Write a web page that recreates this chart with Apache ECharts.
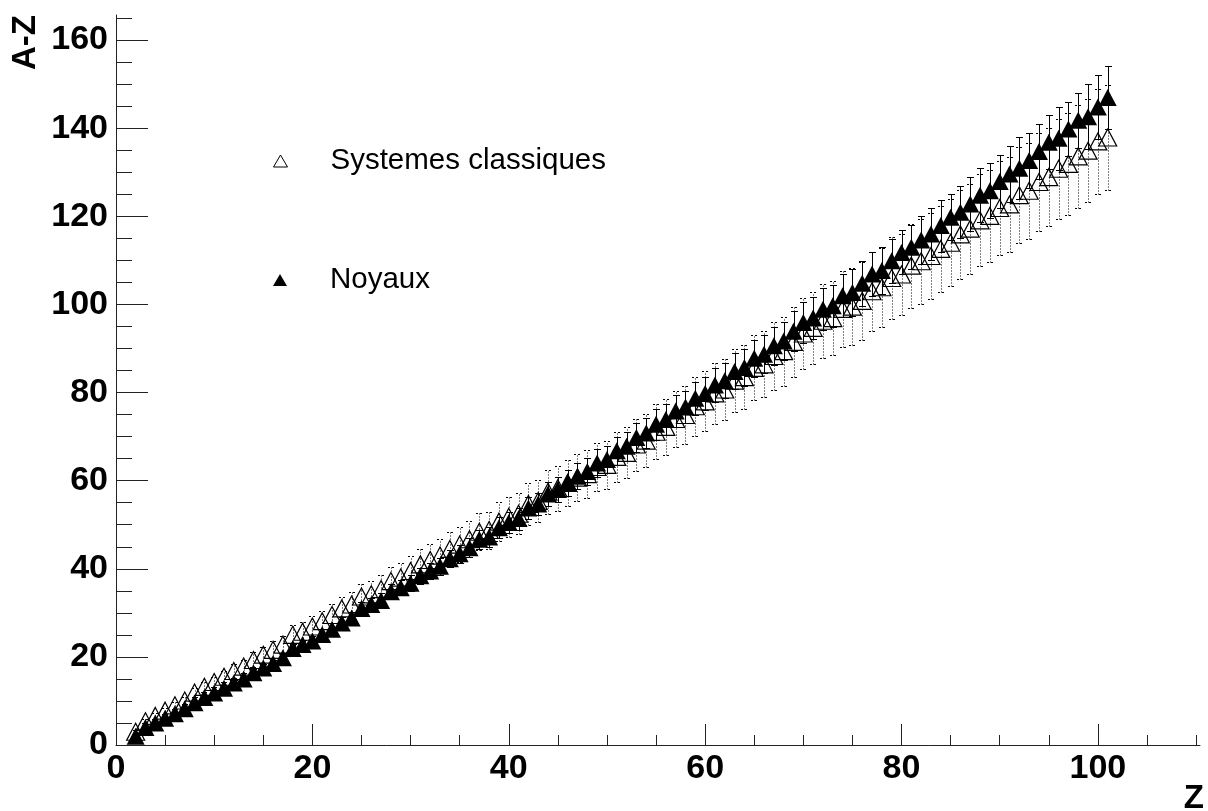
<!DOCTYPE html>
<html><head><meta charset="utf-8">
<script src="https://cdn.jsdelivr.net/npm/echarts@6/dist/echarts.min.js"></script>
<style>html,body{margin:0;padding:0;background:#fff}#c{width:1208px;height:811px}</style>
</head><body><div id="c"></div>
<script>
// ---- data ----
const zValues = [2,3,4,5,6,7,8,9,10,11,12,13,14,15,16,17,18,19,20,21,22,23,24,25,26,27,28,29,30,31,32,33,34,35,36,37,38,39,40,41,42,43,44,45,46,47,48,49,50,51,52,53,54,55,56,57,58,59,60,61,62,63,64,65,66,67,68,69,70,71,72,73,74,75,76,77,78,79,80,81,82,83,84,85,86,87,88,89,90,91,92,93,94,95,96,97,98,99,100,101];

const noyaux = [2.0,4.0,5.0,6.1,7.1,8.2,9.6,10.8,11.8,12.9,14.1,15.0,16.4,17.5,18.5,19.8,21.9,22.8,23.6,25.1,26.3,27.7,28.8,31.0,31.9,32.8,34.8,35.7,36.7,38.4,39.5,40.6,42.3,43.4,44.8,46.7,47.2,49.3,50.5,51.4,53.8,54.7,57.0,58.0,59.5,61.0,62.1,64.0,64.8,66.8,67.8,69.8,70.8,72.8,73.9,75.8,76.7,78.7,79.8,81.7,82.7,84.8,85.7,87.8,88.7,90.6,91.7,93.9,95.9,96.9,98.9,99.7,102.0,102.7,104.8,106.9,107.7,109.9,111.8,113.0,114.6,116.0,117.9,119.8,120.9,122.8,124.8,125.8,127.9,129.6,130.9,132.7,134.7,136.8,137.7,139.8,141.8,142.6,144.8,147.0];

const noyauxErr = [0.1,0.2,0.2,0.3,0.3,0.4,0.5,0.5,0.6,0.6,0.7,0.7,0.8,0.8,0.9,1.0,1.1,1.1,1.1,1.2,1.3,1.3,1.4,1.5,1.5,1.6,1.7,1.7,1.8,1.8,1.9,1.9,2.0,2.1,2.2,2.2,2.3,2.4,2.4,2.5,2.6,2.6,2.7,2.8,2.9,2.9,3.0,3.1,3.1,3.2,3.3,3.4,3.4,3.5,3.5,3.6,3.7,3.8,3.8,3.9,4.0,4.1,4.1,4.2,4.3,4.3,4.4,4.5,4.6,4.7,4.8,4.8,4.9,5.4,5.1,5.0,5.4,5.0,5.0,5.0,5.4,6.0,5.9,5.2,5.9,6.1,6.1,6.2,6.0,6.3,7.0,6.3,6.2,6.1,7.1,6.1,6.2,7.4,7.2,7.1];

const classiques = [3.0,5.4,6.6,7.8,9.0,10.1,11.9,13.2,14.3,15.5,16.8,17.8,19.3,20.5,21.6,22.8,25.0,25.7,26.9,28.1,29.5,31.0,31.9,33.7,34.2,35.4,37.2,38.0,39.5,41.0,42.0,43.0,44.5,45.5,46.7,48.4,48.8,50.7,51.8,52.5,54.7,55.4,57.5,58.3,59.5,60.7,61.5,63.1,63.6,65.4,66.3,68.2,69.1,71.1,72.2,74.0,74.9,76.9,78.0,79.8,80.7,82.7,83.5,85.6,86.4,88.3,89.4,91.5,93.4,94.7,96.3,96.9,99.0,99.5,100.8,103.0,103.9,106.0,106.8,108.8,109.8,111.0,112.6,114.0,115.9,117.2,119.1,120.1,121.9,122.7,124.8,125.8,127.8,128.9,130.8,131.9,133.6,134.9,137.0,137.9];

const classiquesErr = [0.3,0.5,0.6,0.7,0.8,0.9,1.0,1.1,1.2,1.3,1.5,1.5,1.7,1.8,1.9,2.0,2.2,2.2,2.3,2.4,2.6,2.7,2.8,2.9,3.0,3.1,3.2,3.3,3.4,3.6,3.7,3.7,3.9,4.0,4.1,4.2,4.2,4.4,4.5,4.6,4.8,4.8,5.0,5.1,5.2,5.3,5.4,5.5,5.5,5.7,5.8,5.9,6.0,6.2,6.3,6.4,6.5,6.7,6.8,6.9,7.0,7.2,7.3,7.4,7.5,7.7,7.8,8.0,8.1,8.2,8.4,8.4,8.6,8.7,8.8,9.0,9.0,9.2,9.3,9.5,9.6,9.7,9.8,9.9,10.1,10.2,10.4,10.4,10.6,10.7,10.9,10.9,11.1,11.2,11.4,11.5,11.6,11.7,11.9,12.0];

const seriesNames = ['Systemes classiques', 'Noyaux'];
const xTitle = 'Z';
const yTitle = 'A-Z';
const xMajorTicks = [0,20,40,60,80,100];
const xMinorTicks = [5,10,15,25,30,35,45,50,55,65,70,75,85,90,95,105,110];
const yMajorTicks = [0,20,40,60,80,100,120,140,160];
const yMinorTicks = [5,10,15,25,30,35,45,50,55,65,70,75,85,90,95,105,110,115,125,130,135,145,150,155,165];

// ---- chart ----
const FONT = '"Liberation Sans", Arial, Helvetica, sans-serif';
const AX = '#222';
const chart = echarts.init(document.getElementById('c'), null, {renderer: 'canvas'});

function errRenderer(dotted) {
  return function (params, api) {
    const x = api.value(0), lo = api.value(1), hi = api.value(2);
    const pl = api.coord([x, lo]);
    const ph = api.coord([x, hi]);
    const cx = Math.round(pl[0]) + 0.5;
    const yl = Math.round(pl[1]) + 0.5;
    const yh = Math.round(ph[1]) + 0.5;
    const half = 3.5;
    const lineStyle = {stroke: '#000', lineWidth: 1, lineDash: dotted ? [1, 2] : null};
    const capStyle = {stroke: '#000', lineWidth: 1, lineDash: dotted ? [2, 2] : null};
    return {
      type: 'group',
      children: [
        {type: 'line', shape: {x1: cx, y1: yl, x2: cx, y2: yh}, style: lineStyle},
        {type: 'line', shape: {x1: cx - half, y1: yh, x2: cx + half, y2: yh}, style: capStyle},
        {type: 'line', shape: {x1: cx - half, y1: yl, x2: cx + half, y2: yl}, style: capStyle}
      ]
    };
  };
}

const classData = zValues.map((z, i) => [z, classiques[i]]);
const noyData = zValues.map((z, i) => [z, noyaux[i]]);
const classErrData = zValues.map((z, i) => [z, classiques[i] - classiquesErr[i], classiques[i] + classiquesErr[i]]);
const noyErrData = zValues.map((z, i) => [z, noyaux[i] - noyauxErr[i], noyaux[i] + noyauxErr[i]]);

const labelStyle = {fontFamily: FONT, fontSize: 34, fontWeight: 'bold', color: '#000'};

const option = {
  animation: false,
  backgroundColor: '#fff',
  grid: {left: 116, right: 8, top: 15, bottom: 66, containLabel: false, outerBoundsMode: 'none'},
  xAxis: [
    {
      type: 'value', min: 0, max: 110.4, position: 'bottom',
      axisLine: {show: true, lineStyle: {color: AX, width: 1}},
      axisTick: {show: true, inside: true, length: 21, customValues: xMajorTicks, lineStyle: {color: AX, width: 1}},
      axisLabel: Object.assign({show: true, margin: 7, customValues: xMajorTicks}, labelStyle),
      splitLine: {show: false}
    },
    {
      type: 'value', min: 0, max: 110.4, position: 'bottom',
      axisLine: {show: false},
      axisTick: {show: true, inside: true, length: 10, customValues: xMinorTicks, lineStyle: {color: AX, width: 1}},
      axisLabel: {show: false},
      splitLine: {show: false}
    }
  ],
  yAxis: [
    {
      type: 'value', min: 0, max: 165.7, position: 'left',
      axisLine: {show: true, lineStyle: {color: AX, width: 1}},
      axisTick: {show: true, inside: true, length: 32, customValues: yMajorTicks, lineStyle: {color: AX, width: 1}},
      axisLabel: Object.assign({show: true, margin: 8, customValues: yMajorTicks}, labelStyle),
      splitLine: {show: false}
    },
    {
      type: 'value', min: 0, max: 165.7, position: 'left',
      axisLine: {show: false},
      axisTick: {show: true, inside: true, length: 16, customValues: yMinorTicks, lineStyle: {color: AX, width: 1}},
      axisLabel: {show: false},
      splitLine: {show: false}
    }
  ],
  legend: [
    {
      data: [{name: seriesNames[0], icon: 'triangle', itemStyle: {color: '#fff', borderColor: '#000', borderWidth: 1, opacity: 1}}],
      left: 273, top: 146, padding: 0, orient: 'vertical', itemWidth: 14, itemHeight: 12,
      selectedMode: false,
      textStyle: {fontFamily: FONT, fontSize: 29.5, color: '#000', padding: [0, 0, 0, 38]}
    },
    {
      data: [{name: seriesNames[1], icon: 'triangle', itemStyle: {color: '#000', borderWidth: 0, opacity: 1}}],
      left: 273, top: 265, padding: 0, orient: 'vertical', itemWidth: 14, itemHeight: 12,
      selectedMode: false,
      textStyle: {fontFamily: FONT, fontSize: 29.5, color: '#000', padding: [0, 0, 0, 38]}
    }
  ],
  graphic: [
    {type: 'text', x: 25.5, y: 42.5, rotation: Math.PI / 2,
     style: {text: yTitle, font: 'bold 33px ' + FONT, fill: '#000', textAlign: 'center', textVerticalAlign: 'middle'}},
    {type: 'text', x: 1204, y: 799,
     style: {text: xTitle, font: 'bold 33px ' + FONT, fill: '#000', textAlign: 'right', textVerticalAlign: 'middle'}}
  ],
  series: [
    {
      name: seriesNames[0] + ' err', type: 'custom', z: 2, silent: true,
      renderItem: errRenderer(true), data: classErrData,
      encode: {x: 0, y: [1, 2]}
    },
    {
      name: seriesNames[0], type: 'scatter', z: 3, data: classData,
      symbol: 'triangle', symbolSize: [18, 17],
      itemStyle: {color: 'rgba(0,0,0,0)', borderColor: '#000', borderWidth: 1.2, opacity: 1}
    },
    {
      name: seriesNames[1] + ' err', type: 'custom', z: 4, silent: true,
      renderItem: errRenderer(false), data: noyErrData,
      encode: {x: 0, y: [1, 2]}
    },
    {
      name: seriesNames[1], type: 'scatter', z: 5, data: noyData,
      symbol: 'triangle', symbolSize: [18, 17],
      itemStyle: {color: '#000', borderWidth: 0, opacity: 1}
    }
  ]
};
chart.setOption(option);
</script>
</body></html>
